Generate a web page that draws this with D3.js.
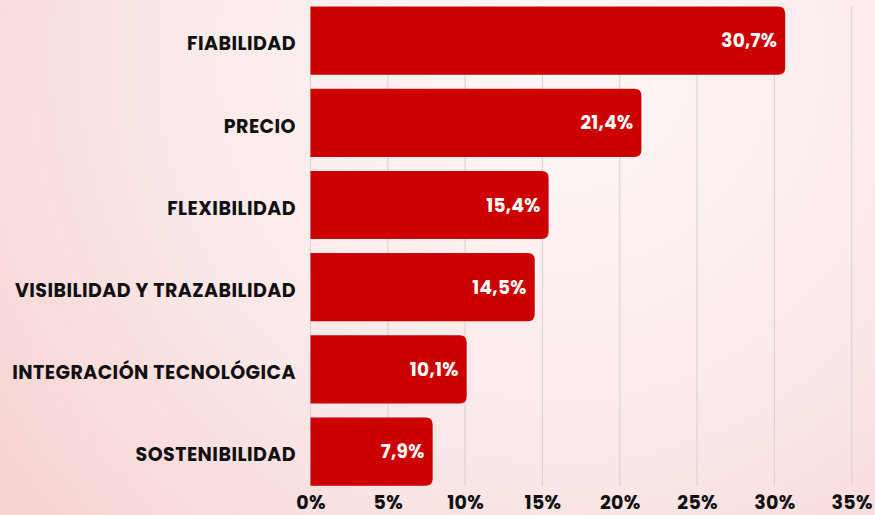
<!DOCTYPE html>
<html><head><meta charset="utf-8">
<script src="https://cdn.jsdelivr.net/npm/d3@7"></script>
<style>html,body{margin:0;padding:0;}svg{display:block;}</style>
</head><body>
<svg id="c" width="875" height="515"></svg>
<script>
const categories = ["FIABILIDAD","PRECIO","FLEXIBILIDAD","VISIBILIDAD Y TRAZABILIDAD","INTEGRACIÓN TECNOLÓGICA","SOSTENIBILIDAD"];
const values = [30.7, 21.4, 15.4, 14.5, 10.1, 7.9];
const tickValues = [0,5,10,15,20,25,30,35];
const tickLabels = ["0%","5%","10%","15%","20%","25%","30%","35%"];

const svg = d3.select("#c");
const W = 875, H = 515;
const defs = svg.append("defs");
const g1 = defs.append("radialGradient").attr("id","bg")
  .attr("gradientUnits","userSpaceOnUse").attr("cx",560).attr("cy",60).attr("r",700);
g1.append("stop").attr("offset","0").attr("stop-color","#fef7f7");
g1.append("stop").attr("offset","0.55").attr("stop-color","#fbe9e9");
g1.append("stop").attr("offset","1").attr("stop-color","#f7d3d3");
svg.append("rect").attr("width",W).attr("height",H).attr("fill","url(#bg)");

const font = "Poppins, Inter, 'DejaVu Sans', sans-serif";
const x = d3.scaleLinear().domain([0,35]).range([310.5, 851.7]);
const y = d3.scaleBand().domain(categories).range([-0.5, 492.7]).paddingInner(0.17).paddingOuter(0.085);

const plotTop = 6.5, plotBot = 486;
svg.append("g").selectAll("line").data(tickValues).join("line")
  .attr("x1",d=>x(d)).attr("x2",d=>x(d)).attr("y1",plotTop).attr("y2",plotBot)
  .attr("stroke","#dcd3d3").attr("stroke-width",1.2);

const r = 7;
function barPath(x0,y0,w,h){
  return `M${x0},${y0}H${x0+w-r}Q${x0+w},${y0} ${x0+w},${y0+r}V${y0+h-r}Q${x0+w},${y0+h} ${x0+w-r},${y0+h}H${x0}Z`;
}
svg.append("g").selectAll("path").data(categories).join("path")
  .attr("d",(c,i)=>barPath(x(0), y(c), x(values[i])-x(0), y.bandwidth()))
  .attr("fill","#cc0000");

svg.append("g").selectAll("text").data(categories).join("text")
  .attr("x",(c,i)=>x(values[i])-8).attr("y",c=>y(c)+y.bandwidth()/2)
  .attr("dy","0.36em").attr("text-anchor","end")
  .attr("fill","#ffffff").attr("font-family",font).attr("font-weight",700).attr("font-size",18.5)
  .attr("letter-spacing",0.3)
  .text((c,i)=>values[i].toFixed(1).replace(".",",")+"%");

svg.append("g").selectAll("text").data(categories).join("text")
  .attr("x",296).attr("y",c=>y(c)+y.bandwidth()/2+3)
  .attr("dy","0.36em").attr("text-anchor","end")
  .attr("fill","#111").attr("font-family",font).attr("font-weight",700).attr("font-size",19)
  .attr("letter-spacing",0.45)
  .text(c=>c);

const ax = d3.axisBottom(x).tickValues(tickValues).tickSize(0).tickFormat((d,i)=>tickLabels[i]);
const axg = svg.append("g").attr("transform",`translate(0,${plotBot})`).call(ax);
axg.select(".domain").remove();
axg.selectAll("text").attr("y",10).attr("dy","0.71em")
  .attr("fill","#111").attr("font-family",font).attr("font-weight",700).attr("font-size",19)
  .attr("letter-spacing",0.3);
</script>
</body></html>
